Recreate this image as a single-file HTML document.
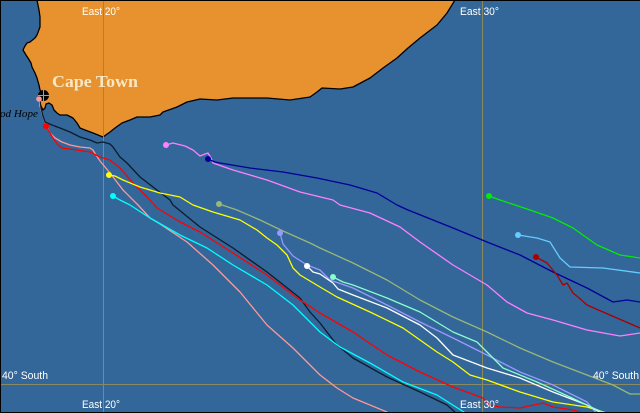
<!DOCTYPE html>
<html><head><meta charset="utf-8"><style>
html,body{margin:0;padding:0;background:#336699;}
svg{display:block;}
</style></head><body>
<svg width="640" height="413" viewBox="0 0 640 413" xmlns="http://www.w3.org/2000/svg">
<rect x="0" y="0" width="640" height="413" fill="#336699"/>
<polygon fill="#e8922f" stroke="#000" stroke-width="1.3" stroke-linejoin="round" points="37,-2 37,0 39,10 40,17 40,27 37,35 35,38 30,42 27,43 25,46 23,50 26,55 28,58 31,63 32,67 35,73 37,78 39,85 40,90 42,93 40,97 39,101 41,106 43,110 45,108 46,104 49,103 52,105 54,110 57,113 60,115 67,115 73,118 77,123 80,128 85,130 93,133 103,137 110,132 115,128 122,123 130,120 137,117 150,117 160,115 163,112 177,107 187,102 200,99 217,100 233,98 267,98 290,100 310,97 317,92 322,88 340,89 353,87 370,78 383,68 397,58 408,48 420,38 437,25 447,13 455,0 456,-2"/>
<g stroke="#8a8a62" stroke-width="1" fill="none">
<line x1="103.5" y1="0" x2="103.5" y2="413"/>
<line x1="482.5" y1="0" x2="482.5" y2="413"/>
<line x1="0" y1="384.5" x2="640" y2="384.5"/>
</g>
<g fill="none" stroke-width="1.3" stroke-linejoin="round">
<polyline stroke="#ff9999" points="39,99 40,106 42,113 44,120 47,127 50,133 55,138 62,142 70,145 80,147 90,148 93,150 96,155 100,161 110,173 123,190 138,205 150,218 160,224 187,242 213,265 240,292 267,325 293,348 320,375 337,388 353,398 387,412 390,414"/>
<polyline stroke="#0c1c2c" points="40,100 41,108 43,116 45,122 52,125 60,128 70,132 80,137 90,140 97,143 103,142 110,144 113,147 120,157 127,163 140,177 153,187 170,200 173,205 200,227 233,248 267,272 300,298 310,312 320,323 337,345 353,358 387,377 420,392 447,405 457,414"/>
<polyline stroke="#ff0000" points="46,126 50,133 53,138 58,145 62,148 77,150 90,152 100,157 110,160 120,168 133,183 147,197 157,208 180,222 200,232 233,253 267,275 300,300 320,313 353,332 387,355 420,372 453,387 483,398 490,405 500,407 520,408 543,403 553,407 573,410 580,412 585,414"/>
<polyline stroke="#00ffff" points="113,196 120,200 130,205 150,218 180,235 207,248 233,265 267,285 293,305 320,332 340,347 370,363 403,382 437,395 467,414"/>
<polyline stroke="#ffff00" points="109,175 115,176 123,180 140,187 160,193 180,197 193,205 213,212 240,220 257,230 267,238 277,245 287,255 293,268 300,275 320,287 337,297 370,312 403,328 437,352 453,362 470,375 487,380 520,392 553,402 587,407 610,414"/>
<polyline stroke="#99b877" points="219,204 237,210 260,220 283,231 310,243 320,248 353,263 387,280 420,300 453,317 487,332 520,348 553,362 587,375 613,385 630,394 640,394"/>
<polyline stroke="#9999ff" points="280,233 283,244 293,256 307,265 320,270 330,280 353,288 387,305 420,322 453,338 487,355 520,372 553,385 587,402 597,414"/>
<polyline stroke="#ffffff" points="307,266 313,272 320,274 333,283 338,289 353,295 387,308 420,325 437,338 453,355 487,368 520,378 553,392 587,405 603,414"/>
<polyline stroke="#88ffcc" points="333,277 343,282 353,285 387,298 420,312 453,332 477,342 493,358 503,368 537,382 570,397 593,408 607,414"/>
<polyline stroke="#ff80ff" points="166,145 173,143 185,146 193,150 200,156 205,154 208,153 211,158 213,163 233,170 267,180 300,192 333,200 340,205 370,213 400,227 420,242 453,265 487,285 507,302 527,313 553,320 587,330 620,336 640,333"/>
<polyline stroke="#000099" points="208,159 215,162 220,163 250,168 283,172 317,178 350,185 377,193 397,205 408,210 453,228 487,242 520,255 553,272 587,288 613,302 627,300 640,302"/>
<polyline stroke="#00ee00" points="489,196 500,200 530,210 553,218 573,228 597,245 620,255 640,258"/>
<polyline stroke="#66ccff" points="518,235 537,238 550,242 560,258 570,267 603,268 640,273"/>
<polyline stroke="#aa0000" points="536,257 547,263 557,275 563,285 567,283 573,293 578,297 587,305 603,312 640,328"/>
</g>
<g>
<circle cx="166" cy="145" r="3" fill="#ff80ff"/>
<circle cx="208" cy="159" r="3" fill="#000099"/>
<circle cx="109" cy="175" r="3" fill="#ffff00"/>
<circle cx="113" cy="196" r="3" fill="#00ffff"/>
<circle cx="219" cy="204" r="3" fill="#99b877"/>
<circle cx="280" cy="233" r="3" fill="#9999ff"/>
<circle cx="307" cy="266" r="3" fill="#ffffff"/>
<circle cx="333" cy="277" r="3" fill="#88ffcc"/>
<circle cx="489" cy="196" r="3" fill="#00ee00"/>
<circle cx="518" cy="235" r="3" fill="#66ccff"/>
<circle cx="536" cy="257" r="3" fill="#aa0000"/>
<circle cx="46" cy="126" r="3" fill="#ff0000"/>
</g>
<circle cx="43.5" cy="95.5" r="5.5" fill="#000"/>
<line x1="43.5" y1="90" x2="43.5" y2="101" stroke="#e8922f" stroke-width="1"/>
<line x1="38" y1="95.5" x2="49" y2="95.5" stroke="#e8922f" stroke-width="1"/>
<circle cx="39" cy="99" r="2.8" fill="#ff9999"/>
<g font-family="Liberation Sans, sans-serif" font-size="11" fill="#ffffff">
<text x="82" y="15" textLength="38" lengthAdjust="spacingAndGlyphs">East 20°</text>
<text x="460" y="15" textLength="39" lengthAdjust="spacingAndGlyphs">East 30°</text>
<text x="82" y="408" textLength="38" lengthAdjust="spacingAndGlyphs">East 20°</text>
<text x="460" y="408" textLength="39" lengthAdjust="spacingAndGlyphs">East 30°</text>
<text x="2" y="379" textLength="46" lengthAdjust="spacingAndGlyphs">40° South</text>
<text x="593" y="379" textLength="46" lengthAdjust="spacingAndGlyphs">40° South</text>
</g>
<text x="52" y="87" font-family="Liberation Serif, serif" font-weight="bold" font-size="17" fill="#f8e8c4" textLength="86" lengthAdjust="spacingAndGlyphs">Cape Town</text>
<text x="0" y="117" font-family="Liberation Serif, serif" font-style="italic" font-size="11" fill="#000" textLength="38" lengthAdjust="spacingAndGlyphs">od Hope</text>
<g stroke="#000" stroke-width="1" fill="none">
<line x1="0.5" y1="0" x2="0.5" y2="413"/>
<line x1="0" y1="412.5" x2="640" y2="412.5"/>
<line x1="0" y1="0.5" x2="640" y2="0.5"/>
</g>
</svg>
</body></html>
